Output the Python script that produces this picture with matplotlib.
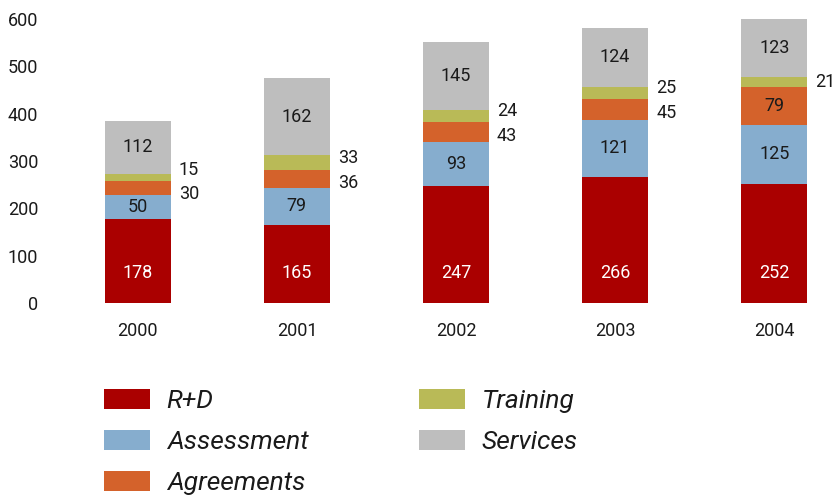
import matplotlib.pyplot as plt
import numpy as np

years = ["2000", "2001", "2002", "2003", "2004"]
series = ["R+D", "Assessment", "Agreements", "Training", "Services"]
rd = [178, 165, 247, 266, 252]
assessment = [50, 79, 93, 121, 125]
agreements = [30, 36, 43, 45, 79]
training = [15, 33, 24, 25, 21]
services = [112, 162, 145, 124, 123]
colors = ["#aa0000", "#86adce", "#d4622b", "#b9ba57", "#bebebe"]

plt.rcParams['font.family'] = ['Roboto', 'DejaVu Sans']
txt = "#1a1a1a"
fs = 13

fig = plt.figure(figsize=(8.35, 4.99), dpi=100)
ax = fig.add_axes([55/835, (499-303)/499, 775/835, 284/499])

x = np.arange(len(years))
w = 0.415
vals = [rd, assessment, agreements, training, services]
bottom = np.zeros(len(years))
bars = []
for v, col, name in zip(vals, colors, series):
    ax.bar(x, v, w, bottom=bottom, color=col, label=name, linewidth=0)
    bars.append((np.array(v), bottom.copy()))
    bottom += np.array(v)

for i in range(len(years)):
    # R+D labels sit low in the bar
    ax.text(x[i], 63, str(rd[i]), ha="center", va="center", color="white", fontsize=fs)
    for k in (1, 4):
        v, b0 = bars[k]
        ax.text(x[i], b0[i] + v[i] / 2, str(v[i]), ha="center", va="center",
                color=txt, fontsize=fs)
    va, ba = bars[2]
    vt, bt = bars[3]
    ya = ba[i] + va[i] / 2
    yt = bt[i] + vt[i] / 2
    xo = x[i] + w / 2 + 0.05
    if va[i] >= 60:
        ax.text(x[i], ya, str(va[i]), ha="center", va="center", color=txt, fontsize=fs)
        ax.text(xo, yt, str(vt[i]), ha="left", va="center", color=txt, fontsize=fs)
    else:
        gap = 52
        if yt - ya < gap:
            mid = (yt + ya) / 2 + 1
            yt, ya = mid + gap / 2, mid - gap / 2
        ax.text(xo, ya, str(va[i]), ha="left", va="center", color=txt, fontsize=fs)
        ax.text(xo, yt, str(vt[i]), ha="left", va="center", color=txt, fontsize=fs)

ax.set_xlim(-0.52, 4.35)
ax.set_ylim(0, 600)
ax.set_yticks(range(0, 601, 100))
ax.set_xticks(x)
ax.set_xticklabels(years)
ax.tick_params(length=0, labelsize=fs, colors=txt)
ax.tick_params(axis="y", pad=12)
ax.tick_params(axis="x", pad=14)
for s in ax.spines.values():
    s.set_visible(False)

fig.legend(loc="upper left", bbox_to_anchor=(80/835, 1 - 365/499), ncol=2,
           frameon=False, prop={"style": "italic", "size": 19},
           labelcolor=txt, handlelength=1.74, handleheight=0.8, handletextpad=0.64,
           labelspacing=0.63, columnspacing=4.2)

fig.savefig("out.png", dpi=100)
